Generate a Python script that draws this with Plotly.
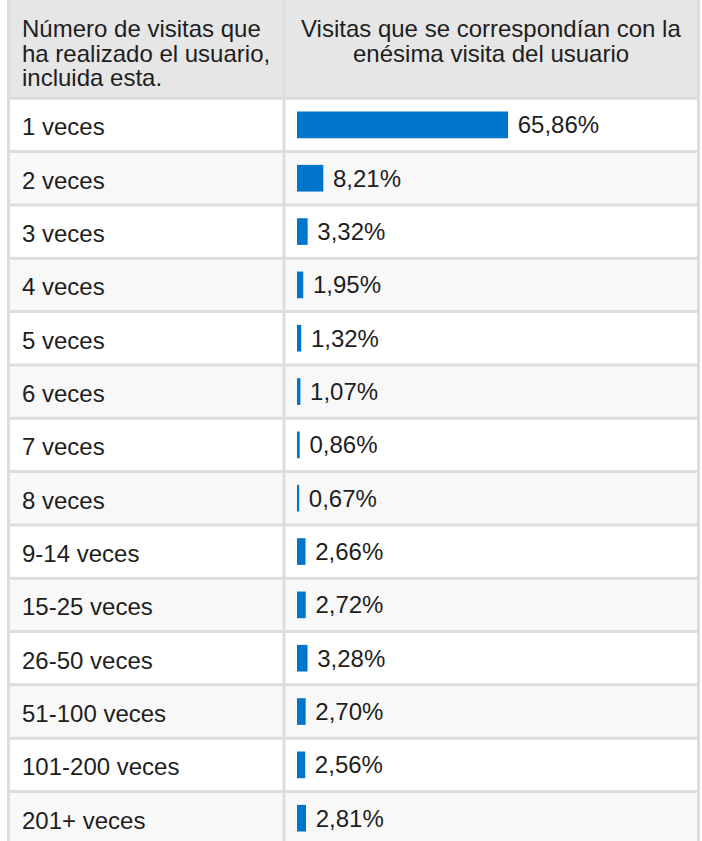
import plotly.graph_objects as go

# ---- data ----
categories = ["1 veces", "2 veces", "3 veces", "4 veces", "5 veces", "6 veces",
              "7 veces", "8 veces", "9-14 veces", "15-25 veces", "26-50 veces",
              "51-100 veces", "101-200 veces", "201+ veces"]
values = [65.86, 8.21, 3.32, 1.95, 1.32, 1.07, 0.86, 0.67, 2.66, 2.72, 3.28,
          2.70, 2.56, 2.81]
header_left = ["Número de visitas que", "ha realizado el usuario,", "incluida esta."]
header_right = ["Visitas que se correspondían con la", "enésima visita del usuario"]

labels = [f"{v:.2f}".replace(".", ",") + "%" for v in values]

W, H = 702, 841
FONT = "Liberation Sans, Arial, sans-serif"
TXT = "#1e1e1e"
BORDER = "#dddddd"
HEADER_BG = "#e6e6e6"
ALT_BG = "#f8f8f8"
BAR = "#0075cc"

row_pitch = 53.33
row0_center = 124.9
bar_x0 = 297.0
px_per_unit = 3.204

y_top = -row0_center / row_pitch
y_bot = (H - row0_center) / row_pitch
x_lo = -bar_x0 / px_per_unit
x_hi = (W - bar_x0) / px_per_unit

def px(xp):
    return xp / W

def py(yp):
    return 1 - yp / H

fig = go.Figure()
fig.add_trace(go.Bar(
    x=values, y=categories, orientation="h",
    marker=dict(color=BAR, line=dict(width=0)),
    width=0.5,
    text=labels, texttemplate="\u00a0%{text}",
    textposition="outside", constraintext="none", cliponaxis=False,
    textfont=dict(family=FONT, size=24, color=TXT),
    hoverinfo="skip",
))

shapes = []
L, M, R = 8.5, 284.0, 698.5
# header background
shapes.append(dict(type="rect", xref="paper", yref="y", x0=px(L), x1=px(R),
                   y0=y_top - 1, y1=-0.5, fillcolor=HEADER_BG, line_width=0,
                   layer="below"))
# alternating row backgrounds
for i in range(len(categories)):
    if i % 2 == 1:
        shapes.append(dict(type="rect", xref="paper", yref="y", x0=px(L), x1=px(R),
                           y0=i - 0.5, y1=i + 0.5, fillcolor=ALT_BG, line_width=0,
                           layer="below"))
# horizontal dividers
for i in range(len(categories)):
    shapes.append(dict(type="line", xref="paper", yref="y", x0=px(L - 1.5), x1=px(R + 1.5),
                       y0=i - 0.5, y1=i - 0.5, line=dict(color=BORDER, width=3),
                       layer="below"))
# vertical dividers
for xv in (L, M, R):
    shapes.append(dict(type="line", xref="paper", yref="paper", x0=px(xv), x1=px(xv),
                       y0=0, y1=1, line=dict(color=BORDER, width=3), layer="below"))

annotations = []
for c in categories:
    annotations.append(dict(text=c, xref="paper", yref="y", x=px(20), y=c,
                            xanchor="left", yanchor="middle", showarrow=False,
                            yshift=-2,
                            font=dict(family=FONT, size=24, color=TXT)))
left_base = [36, 61, 85]
for t, b in zip(header_left, left_base):
    annotations.append(dict(text=t, xref="paper", yref="paper", x=px(20), y=py(b - 8),
                            xanchor="left", yanchor="middle", showarrow=False,
                            font=dict(family=FONT, size=24, color=TXT)))
right_base = [36, 61]
for t, b in zip(header_right, right_base):
    annotations.append(dict(text=t, xref="paper", yref="paper", x=px(490.5), y=py(b - 8),
                            xanchor="center", yanchor="middle", showarrow=False,
                            font=dict(family=FONT, size=24, color=TXT)))

fig.update_layout(
    width=W, height=H,
    margin=dict(l=0, r=0, t=0, b=0),
    paper_bgcolor="white", plot_bgcolor="white",
    showlegend=False,
    xaxis=dict(range=[x_lo, x_hi], visible=False, fixedrange=True),
    yaxis=dict(type="category", categoryorder="array", categoryarray=categories,
               range=[y_bot, y_top], visible=False, fixedrange=True),
    shapes=shapes, annotations=annotations,
)

fig.write_html("out.html", config={"displayModeBar": False},
               post_script="document.body.style.margin='0px';document.body.style.overflow='hidden';")
